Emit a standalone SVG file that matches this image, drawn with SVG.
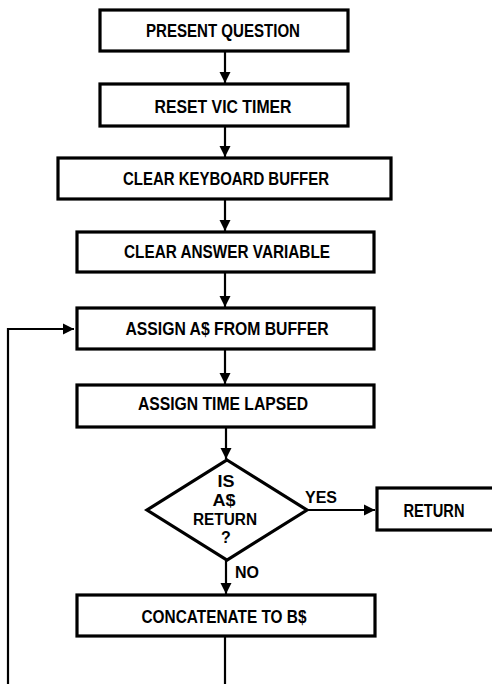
<svg xmlns="http://www.w3.org/2000/svg" width="492" height="684" viewBox="0 0 492 684">
<defs>
<style>
.box{fill:#fff;stroke:#000;stroke-width:3.2}
.t{font-family:"Liberation Sans Narrow","Liberation Sans",Arial,sans-serif;font-size:18px;fill:#000;text-anchor:middle;font-weight:bold}
.d{font-family:"Liberation Sans Narrow","Liberation Sans",Arial,sans-serif;font-size:16px;fill:#000;text-anchor:middle;font-weight:bold}
.c{fill:none;stroke:#000;stroke-width:2.2}
</style>
<marker id="ah" markerUnits="userSpaceOnUse" markerWidth="12" markerHeight="12" viewBox="0 0 12 12" refX="11" refY="6" orient="auto">
<path d="M0,0.5 L11,6 L0,11.5 Z" fill="#000"/>
</marker>
</defs>
<rect width="492" height="684" fill="#fff"/>
<g id="connectors">
<line class="c" x1="225" y1="51" x2="225" y2="83" marker-end="url(#ah)"/>
<line class="c" x1="225" y1="126" x2="225" y2="157" marker-end="url(#ah)"/>
<line class="c" x1="225" y1="199" x2="225" y2="231" marker-end="url(#ah)"/>
<line class="c" x1="225" y1="272" x2="225" y2="307" marker-end="url(#ah)"/>
<line class="c" x1="225" y1="349" x2="225" y2="384" marker-end="url(#ah)"/>
<line class="c" x1="226" y1="427" x2="226" y2="459" marker-end="url(#ah)"/>
<line class="c" x1="306" y1="510" x2="375" y2="510" marker-end="url(#ah)"/>
<line class="c" x1="226" y1="560" x2="226" y2="594" marker-end="url(#ah)"/>
<line class="c" x1="225" y1="636" x2="225" y2="684"/>
<polyline class="c" points="8,684 8,329 74,329" marker-end="url(#ah)"/>
<text class="d" x="321" y="503">YES</text>
<text class="d" x="247" y="578">NO</text>
</g>
<g id="n1"><rect class="box" x="100" y="10" width="248" height="41"/><text class="t" x="223" y="37" textLength="154" lengthAdjust="spacingAndGlyphs">PRESENT QUESTION</text></g>
<g id="n2"><rect class="box" x="100" y="84" width="248" height="42"/><text class="t" x="223" y="113" textLength="137" lengthAdjust="spacingAndGlyphs">RESET VIC TIMER</text></g>
<g id="n3"><rect class="box" x="58" y="158" width="333" height="41"/><text class="t" x="226" y="185" textLength="206" lengthAdjust="spacingAndGlyphs">CLEAR KEYBOARD BUFFER</text></g>
<g id="n4"><rect class="box" x="77" y="232" width="297" height="40"/><text class="t" x="227" y="258" textLength="206" lengthAdjust="spacingAndGlyphs">CLEAR ANSWER VARIABLE</text></g>
<g id="n5"><rect class="box" x="77" y="308" width="297" height="41"/><text class="t" x="227" y="335" textLength="203" lengthAdjust="spacingAndGlyphs">ASSIGN A$ FROM BUFFER</text></g>
<g id="n6"><rect class="box" x="77" y="385" width="297" height="42"/><text class="t" x="223" y="410" textLength="170" lengthAdjust="spacingAndGlyphs">ASSIGN TIME LAPSED</text></g>
<g id="n7"><polygon class="box" points="227,460 307,510 227,560 147,510"/>
<text class="d" x="226" y="487" textLength="17" lengthAdjust="spacingAndGlyphs">IS</text>
<text class="d" x="224" y="506" textLength="23" lengthAdjust="spacingAndGlyphs">A$</text>
<text class="d" x="225" y="525" textLength="64" lengthAdjust="spacingAndGlyphs">RETURN</text>
<text class="d" x="226" y="543">?</text></g>
<g id="n8"><rect class="box" x="377" y="488" width="130" height="42"/><text class="t" x="434" y="517" textLength="61" lengthAdjust="spacingAndGlyphs">RETURN</text></g>
<g id="n9"><rect class="box" x="77" y="595" width="298" height="41"/><text class="t" x="224" y="623" textLength="165" lengthAdjust="spacingAndGlyphs">CONCATENATE TO B$</text></g>
</svg>
